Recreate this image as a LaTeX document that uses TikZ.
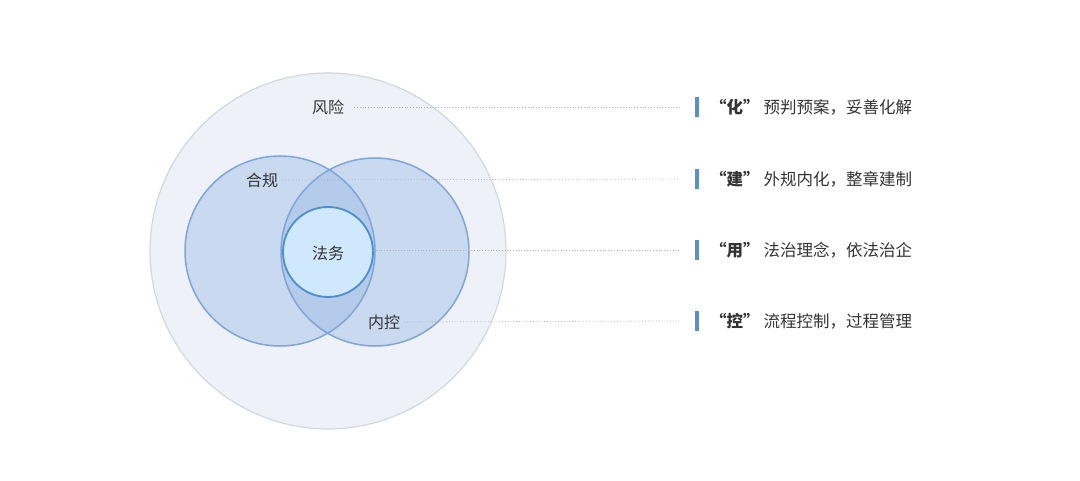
\documentclass[tikz,border=0pt]{standalone}
\usepackage{fontspec}
\newfontfamily\cjk{Noto Sans CJK SC}
\usetikzlibrary{positioning}
\definecolor{bigfill}{HTML}{EEF2F8}
\definecolor{bigline}{HTML}{D3D7DE}
\definecolor{midfill}{HTML}{9DBCE6}
\definecolor{midline}{HTML}{7FA6D9}
\definecolor{smallfill}{HTML}{CFE8FB}
\definecolor{smallline}{HTML}{4C8ED2}
\definecolor{barc}{HTML}{5B8FC7}
\definecolor{txt}{HTML}{333333}
\tikzset{
  lbl/.style={font=\cjk\fontsize{16}{19}\selectfont, text=txt, inner sep=0pt},
  rtxt/.style={font=\cjk\fontsize{16.5}{19}\selectfont, text=txt, inner sep=0pt, anchor=west},
  dots/.style={draw=gray!60, dotted, line width=0.8pt},
  bar/.style={fill=barc, draw=none, minimum width=3.5pt, minimum height=20pt, inner sep=0pt}
}
\begin{document}
\begin{tikzpicture}[x=1pt,y=-1pt]
\useasboundingbox (0,0) rectangle (1080,481);
\fill[bigfill] (328,251) circle (178);
\draw[bigline, line width=1.2pt] (328,251) circle (178);
\fill[midfill, opacity=0.45] (280,251) circle (95);
\fill[midfill, opacity=0.45] (375,252) circle (94);
\draw[midline, line width=1.5pt] (280,251) circle (95);
\draw[midline, line width=1.5pt] (375,252) circle (94);
\fill[smallfill] (328,252) circle (45);
\draw[smallline, line width=1.8pt] (328,252) circle (45);

\node[lbl] (fx) at (328,107) {风险};
\node[lbl] (hg) at (262,180) {合规};
\node[lbl] (fw) at (328,253) {法务};
\node[lbl] (nk) at (384,322) {内控};

\node[bar] (b1) at (697,107) {};
\node[bar] (b2) at (697,179) {};
\node[bar] (b3) at (697,250) {};
\node[bar] (b4) at (697,321) {};
\node[rtxt] (t1) at (710,107) {\textbf{“化”}\hspace{4pt}预判预案，妥善化解};
\node[rtxt] (t2) at (710,179) {\textbf{“建”}\hspace{4pt}外规内化，整章建制};
\node[rtxt] (t3) at (710,250) {\textbf{“用”}\hspace{4pt}法治理念，依法治企};
\node[rtxt] (t4) at (710,321) {\textbf{“控”}\hspace{4pt}流程控制，过程管理};

\coordinate (e1) at (680,107);
\coordinate (e2) at (680,179);
\coordinate (e3) at (680,250);
\coordinate (e4) at (680,321);
\draw[dots] ([xshift=10pt]fx.east) -- (e1);
\draw[dots] ([xshift=4pt]hg.east) -- (e2);
\draw[dots] (373,250) -- (e3);
\draw[dots] ([xshift=4pt]nk.east) -- (e4);
\end{tikzpicture}
\end{document}
